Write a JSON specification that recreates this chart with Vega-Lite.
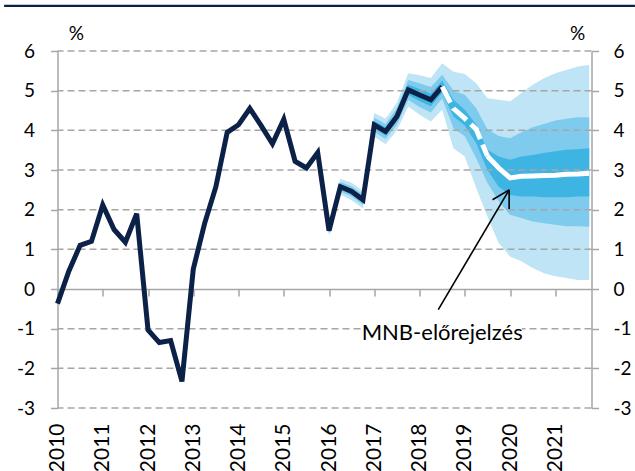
{
  "$schema": "https://vega.github.io/schema/vega-lite/v6.json",
  "width": 534,
  "height": 357,
  "autosize": {"type": "none"},
  "padding": {"left": 57.5, "top": 51, "right": 43.5, "bottom": 63},
  "background": "white",
  "config": {
    "view": {"stroke": null},
    "font": "Lato",
    "axis": {
      "labelFont": "Lato",
      "titleFont": "Lato",
      "labelColor": "#000000",
      "titleColor": "#000000",
      "labelFontSize": 19,
      "titleFontSize": 19,
      "titleFontWeight": "normal",
      "domainColor": "#A6A6A6",
      "tickColor": "#A6A6A6",
      "domainWidth": 1.5,
      "tickWidth": 1.5,
      "tickSize": 7,
      "grid": false
    }
  },
  "datasets": {
    "hist": [
      {"t": 2010.00, "v": -0.37}, {"t": 2010.25, "v": 0.45}, {"t": 2010.50, "v": 1.10}, {"t": 2010.75, "v": 1.20},
      {"t": 2011.00, "v": 2.12}, {"t": 2011.25, "v": 1.50}, {"t": 2011.50, "v": 1.18}, {"t": 2011.75, "v": 1.90},
      {"t": 2012.00, "v": -1.03}, {"t": 2012.25, "v": -1.35}, {"t": 2012.50, "v": -1.30}, {"t": 2012.75, "v": -2.33},
      {"t": 2013.00, "v": 0.50}, {"t": 2013.25, "v": 1.65}, {"t": 2013.50, "v": 2.58}, {"t": 2013.75, "v": 3.95},
      {"t": 2014.00, "v": 4.14}, {"t": 2014.25, "v": 4.55}, {"t": 2014.50, "v": 4.12}, {"t": 2014.75, "v": 3.66},
      {"t": 2015.00, "v": 4.28}, {"t": 2015.25, "v": 3.22}, {"t": 2015.50, "v": 3.05}, {"t": 2015.75, "v": 3.44},
      {"t": 2016.00, "v": 1.47}, {"t": 2016.25, "v": 2.58}, {"t": 2016.50, "v": 2.46}, {"t": 2016.75, "v": 2.25},
      {"t": 2017.00, "v": 4.14}, {"t": 2017.25, "v": 3.97}, {"t": 2017.50, "v": 4.35}, {"t": 2017.75, "v": 5.02},
      {"t": 2018.00, "v": 4.89}, {"t": 2018.25, "v": 4.77}, {"t": 2018.50, "v": 5.10}
    ],
    "fan": [
      {"t": 2015.00, "lo90": 4.23, "hi90": 4.33, "lo60": 4.25, "hi60": 4.31, "lo30": 4.26, "hi30": 4.30},
      {"t": 2015.25, "lo90": 3.14, "hi90": 3.30, "lo60": 3.17, "hi60": 3.27, "lo30": 3.19, "hi30": 3.25},
      {"t": 2015.50, "lo90": 2.97, "hi90": 3.13, "lo60": 3.00, "hi60": 3.10, "lo30": 3.02, "hi30": 3.08},
      {"t": 2015.75, "lo90": 3.34, "hi90": 3.54, "lo60": 3.38, "hi60": 3.50, "lo30": 3.41, "hi30": 3.47},
      {"t": 2016.00, "lo90": 1.35, "hi90": 1.59, "lo60": 1.40, "hi60": 1.54, "lo30": 1.43, "hi30": 1.51},
      {"t": 2016.25, "lo90": 2.38, "hi90": 2.78, "lo60": 2.46, "hi60": 2.70, "lo30": 2.52, "hi30": 2.64},
      {"t": 2016.50, "lo90": 2.24, "hi90": 2.68, "lo60": 2.33, "hi60": 2.59, "lo30": 2.39, "hi30": 2.53},
      {"t": 2016.75, "lo90": 2.03, "hi90": 2.47, "lo60": 2.12, "hi60": 2.38, "lo30": 2.18, "hi30": 2.32},
      {"t": 2017.00, "lo90": 3.84, "hi90": 4.44, "lo60": 3.96, "hi60": 4.32, "lo30": 4.05, "hi30": 4.23},
      {"t": 2017.25, "lo90": 3.65, "hi90": 4.29, "lo60": 3.78, "hi60": 4.16, "lo30": 3.87, "hi30": 4.07},
      {"t": 2017.50, "lo90": 4.00, "hi90": 4.70, "lo60": 4.14, "hi60": 4.56, "lo30": 4.24, "hi30": 4.46},
      {"t": 2017.75, "lo90": 4.60, "hi90": 5.44, "lo60": 4.77, "hi60": 5.27, "lo30": 4.89, "hi30": 5.15},
      {"t": 2018.00, "lo90": 4.39, "hi90": 5.39, "lo60": 4.59, "hi60": 5.19, "lo30": 4.74, "hi30": 5.04},
      {"t": 2018.25, "lo90": 4.22, "hi90": 5.32, "lo60": 4.45, "hi60": 5.09, "lo30": 4.61, "hi30": 4.93},
      {"t": 2018.50, "lo90": 4.52, "hi90": 5.69, "lo60": 4.80, "hi60": 5.40, "lo30": 4.95, "hi30": 5.25},
      {"t": 2018.75, "lo90": 3.55, "hi90": 5.48, "lo60": 4.05, "hi60": 5.00, "lo30": 4.35, "hi30": 4.77},
      {"t": 2019.00, "lo90": 3.34, "hi90": 5.42, "lo60": 3.85, "hi60": 4.90, "lo30": 4.12, "hi30": 4.52},
      {"t": 2019.25, "lo90": 2.55, "hi90": 5.19, "lo60": 3.30, "hi60": 4.56, "lo30": 3.68, "hi30": 4.15},
      {"t": 2019.50, "lo90": 1.83, "hi90": 4.81, "lo60": 2.67, "hi60": 4.03, "lo30": 3.00, "hi30": 3.51},
      {"t": 2019.75, "lo90": 1.16, "hi90": 4.77, "lo60": 2.21, "hi60": 3.86, "lo30": 2.58, "hi30": 3.34},
      {"t": 2020.00, "lo90": 0.82, "hi90": 4.73, "lo60": 1.87, "hi60": 3.80, "lo30": 2.37, "hi30": 3.26},
      {"t": 2020.25, "lo90": 0.70, "hi90": 4.94, "lo60": 1.79, "hi60": 3.95, "lo30": 2.33, "hi30": 3.34},
      {"t": 2020.50, "lo90": 0.53, "hi90": 5.15, "lo60": 1.70, "hi60": 4.08, "lo30": 2.33, "hi30": 3.38},
      {"t": 2020.75, "lo90": 0.40, "hi90": 5.31, "lo60": 1.66, "hi60": 4.16, "lo30": 2.31, "hi30": 3.43},
      {"t": 2021.00, "lo90": 0.32, "hi90": 5.44, "lo60": 1.62, "hi60": 4.25, "lo30": 2.31, "hi30": 3.47},
      {"t": 2021.25, "lo90": 0.28, "hi90": 5.52, "lo60": 1.58, "hi60": 4.29, "lo30": 2.31, "hi30": 3.51},
      {"t": 2021.50, "lo90": 0.23, "hi90": 5.61, "lo60": 1.58, "hi60": 4.33, "lo30": 2.33, "hi30": 3.52},
      {"t": 2021.75, "lo90": 0.23, "hi90": 5.65, "lo60": 1.57, "hi60": 4.33, "lo30": 2.33, "hi30": 3.55}
    ],
    "fcDash": [
      {"t": 2018.50, "v": 5.10}, {"t": 2018.75, "v": 4.55}, {"t": 2019.00, "v": 4.30},
      {"t": 2019.25, "v": 4.03}, {"t": 2019.50, "v": 3.35}
    ],
    "fcSolid": [
      {"t": 2019.50, "v": 3.35}, {"t": 2019.75, "v": 3.05}, {"t": 2020.00, "v": 2.80},
      {"t": 2020.25, "v": 2.84}, {"t": 2020.50, "v": 2.85}, {"t": 2020.75, "v": 2.86},
      {"t": 2021.00, "v": 2.87}, {"t": 2021.25, "v": 2.89}, {"t": 2021.50, "v": 2.90}, {"t": 2021.75, "v": 2.92}
    ],
    "grid": [
      {"g": -3}, {"g": -2}, {"g": -1}, {"g": 1}, {"g": 2}, {"g": 3}, {"g": 4}, {"g": 5}, {"g": 6}
    ],
    "arrow": [
      {"x1": 2018.414, "y1": -0.52, "x2": 2019.98, "y2": 2.50},
      {"x1": 2019.98, "y1": 2.50, "x2": 2019.613, "y2": 2.25},
      {"x1": 2019.98, "y1": 2.50, "x2": 2019.98, "y2": 2.015}
    ],
    "one": [{}]
  },
  "layer": [
    {
      "data": {"name": "fan"},
      "mark": {"type": "area", "color": "#BEE4F5"},
      "encoding": {
        "x": {
          "field": "t", "type": "quantitative",
          "scale": {"domain": [2010, 2021.8], "nice": false, "zero": false},
          "axis": {
            "orient": "bottom", "offset": -119,
            "values": [2010, 2011, 2012, 2013, 2014, 2015, 2016, 2017, 2018, 2019, 2020, 2021],
            "format": "d", "labelAngle": -90, "labelPadding": 127, "labelFontSize": 21,
            "labelFlush": false, "labelOverlap": false, "title": null
          }
        },
        "y": {
          "field": "lo90", "type": "quantitative",
          "scale": {"domain": [-3, 6], "nice": false, "zero": false},
          "axis": {
            "orient": "left",
            "values": [-3, -2, -1, 0, 1, 2, 3, 4, 5, 6],
            "labelExpr": "'' + datum.value",
            "labelPadding": 16,
            "title": "%", "titleAngle": 0, "titleAlign": "center", "titleBaseline": "alphabetic",
            "titleX": 18.3, "titleY": -12
          }
        },
        "y2": {"field": "hi90"}
      }
    },
    {
      "data": {"name": "fan"},
      "mark": {"type": "area", "color": "#7ECBEE"},
      "encoding": {
        "x": {"field": "t", "type": "quantitative", "axis": {"title": null}},
        "y": {"field": "lo60", "type": "quantitative", "axis": null},
        "y2": {"field": "hi60"}
      }
    },
    {
      "data": {"name": "fan"},
      "mark": {"type": "area", "color": "#3EB4E3"},
      "encoding": {
        "x": {"field": "t", "type": "quantitative", "axis": {"title": null}},
        "y": {"field": "lo30", "type": "quantitative", "axis": null},
        "y2": {"field": "hi30"}
      }
    },
    {
      "data": {"name": "grid"},
      "mark": {"type": "rule", "color": "#A6A6A6", "strokeWidth": 1.5, "strokeDash": [7, 4]},
      "encoding": {
        "y": {"field": "g", "type": "quantitative", "axis": null}
      }
    },
    {
      "data": {"name": "hist"},
      "mark": {"type": "line", "color": "#0C2148", "strokeWidth": 5, "strokeJoin": "miter"},
      "encoding": {
        "x": {"field": "t", "type": "quantitative", "axis": {"title": null}},
        "y": {
          "field": "v", "type": "quantitative",
          "axis": {
            "orient": "right",
            "values": [-3, -2, -1, 0, 1, 2, 3, 4, 5, 6],
            "labelExpr": "'' + datum.value",
            "labelPadding": 14.5,
            "title": "%", "titleAngle": 0, "titleAlign": "center", "titleBaseline": "alphabetic",
            "titleX": -14.5, "titleY": -12
          }
        }
      }
    },
    {
      "data": {"name": "fcDash"},
      "mark": {"type": "line", "color": "#FFFFFF", "strokeWidth": 5, "strokeDash": [18, 6]},
      "encoding": {
        "x": {"field": "t", "type": "quantitative", "axis": {"title": null}},
        "y": {"field": "v", "type": "quantitative", "axis": null}
      }
    },
    {
      "data": {"name": "fcSolid"},
      "mark": {"type": "line", "color": "#FFFFFF", "strokeWidth": 5},
      "encoding": {
        "x": {"field": "t", "type": "quantitative", "axis": {"title": null}},
        "y": {"field": "v", "type": "quantitative", "axis": null}
      }
    },
    {
      "data": {"name": "one"},
      "mark": {"type": "rect", "color": "#FFFFFF"},
      "encoding": {
        "x": {"datum": 2016.72, "type": "quantitative", "axis": {"title": null}},
        "x2": {"datum": 2020.26},
        "y": {"datum": -0.85, "type": "quantitative", "axis": null},
        "y2": {"datum": -1.3}
      }
    },
    {
      "data": {"name": "arrow"},
      "mark": {"type": "rule", "color": "#000000", "strokeWidth": 1.6},
      "encoding": {
        "x": {"field": "x1", "type": "quantitative", "axis": {"title": null}},
        "x2": {"field": "x2"},
        "y": {"field": "y1", "type": "quantitative", "axis": null},
        "y2": {"field": "y2"}
      }
    },
    {
      "data": {"name": "one"},
      "mark": {"type": "text", "text": "MNB-előrejelzés", "font": "Lato", "fontSize": 22, "align": "center", "baseline": "alphabetic", "color": "#000000"},
      "encoding": {
        "x": {"datum": 2018.5, "type": "quantitative", "axis": {"title": null}},
        "y": {"datum": -1.28, "type": "quantitative", "axis": null}
      }
    },
    {
      "data": {"name": "one"},
      "mark": {"type": "rule", "color": "#0C2148", "strokeWidth": 2.2},
      "encoding": {
        "x": {"datum": 2008.82, "type": "quantitative", "axis": {"title": null}},
        "x2": {"datum": 2022.76},
        "y": {"datum": 7.14, "type": "quantitative", "axis": null}
      }
    }
  ],
  "resolve": {"axis": {"y": "independent"}}
}
